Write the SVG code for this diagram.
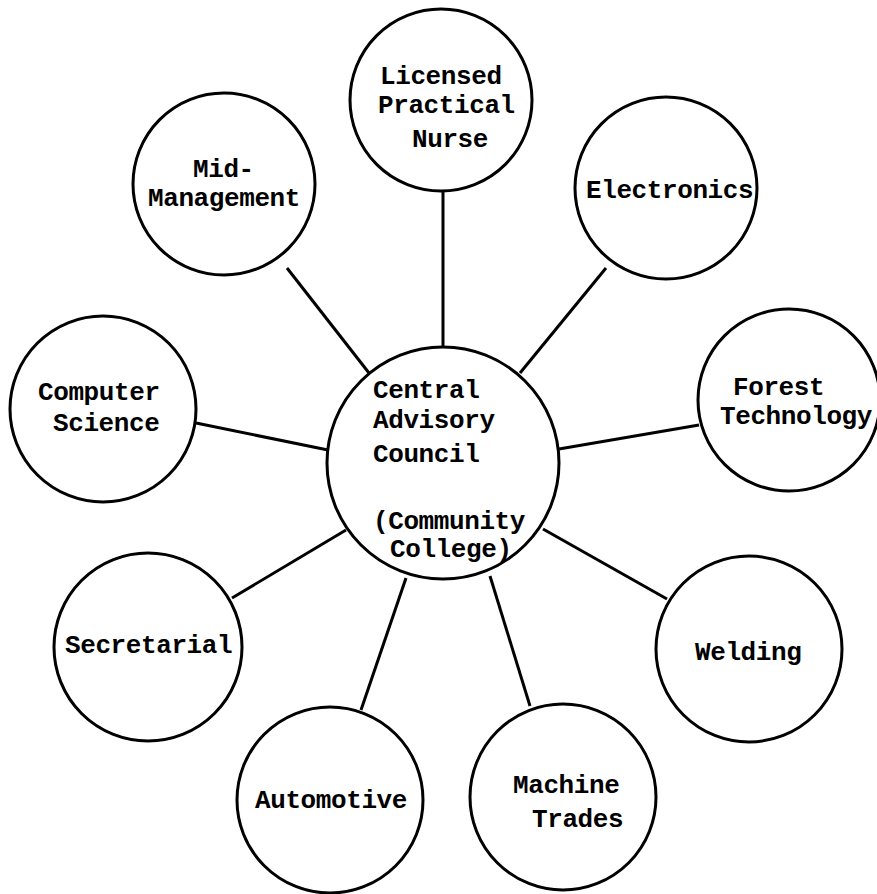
<svg xmlns="http://www.w3.org/2000/svg" width="877" height="894" viewBox="0 0 877 894">
<style>
.c{fill:#fff;stroke:#000;stroke-width:3}
.l{stroke:#000;stroke-width:3;fill:none}
text{font-family:"Liberation Mono","DejaVu Sans Mono",monospace;font-size:26px;font-weight:bold;letter-spacing:-0.4px;fill:#000}
</style>
<rect width="877" height="894" fill="#fff"/>
<g id="connectors">
<line class="l" x1="443" y1="190" x2="443" y2="348"/>
<line class="l" x1="287" y1="268" x2="369" y2="373"/>
<line class="l" x1="606" y1="268" x2="520" y2="373"/>
<line class="l" x1="559" y1="449" x2="699" y2="425"/>
<line class="l" x1="196" y1="423" x2="328" y2="450"/>
<line class="l" x1="232" y1="598" x2="346" y2="530"/>
<line class="l" x1="543" y1="529" x2="667" y2="599"/>
<line class="l" x1="406" y1="578" x2="361" y2="710"/>
<line class="l" x1="490" y1="576" x2="530" y2="706"/>
</g>
<g id="central">
<circle class="c" cx="443" cy="463" r="116"/>
<text x="373" y="398">Central</text>
<text x="373" y="428">Advisory</text>
<text x="373" y="462">Council</text>
<text x="373" y="529">(Community</text>
<text x="390" y="557">College)</text>
</g>
<g id="nurse">
<circle class="c" cx="441" cy="100" r="91"/>
<text x="380" y="84">Licensed</text>
<text x="378" y="113">Practical</text>
<text x="412" y="147">Nurse</text>
</g>
<g id="midmanagement">
<circle class="c" cx="224" cy="184" r="91"/>
<text x="193" y="177">Mid-</text>
<text x="148" y="206">Management</text>
</g>
<g id="electronics">
<circle class="c" cx="666" cy="188" r="91"/>
<text x="586" y="198">Electronics</text>
</g>
<g id="forest">
<circle class="c" cx="789" cy="400" r="91"/>
<text x="733" y="395">Forest</text>
<text x="720" y="424">Technology</text>
</g>
<g id="computer">
<circle class="c" cx="103" cy="409" r="93"/>
<text x="38" y="400">Computer</text>
<text x="53" y="431">Science</text>
</g>
<g id="secretarial">
<circle class="c" cx="148" cy="647" r="94"/>
<text x="65" y="653">Secretarial</text>
</g>
<g id="welding">
<circle class="c" cx="749" cy="649" r="93"/>
<text x="695" y="660">Welding</text>
</g>
<g id="automotive">
<circle class="c" cx="330" cy="800" r="93"/>
<text x="255" y="808">Automotive</text>
</g>
<g id="machine">
<circle class="c" cx="563" cy="797" r="93"/>
<text x="513" y="793">Machine</text>
<text x="532" y="827">Trades</text>
</g>
</svg>
